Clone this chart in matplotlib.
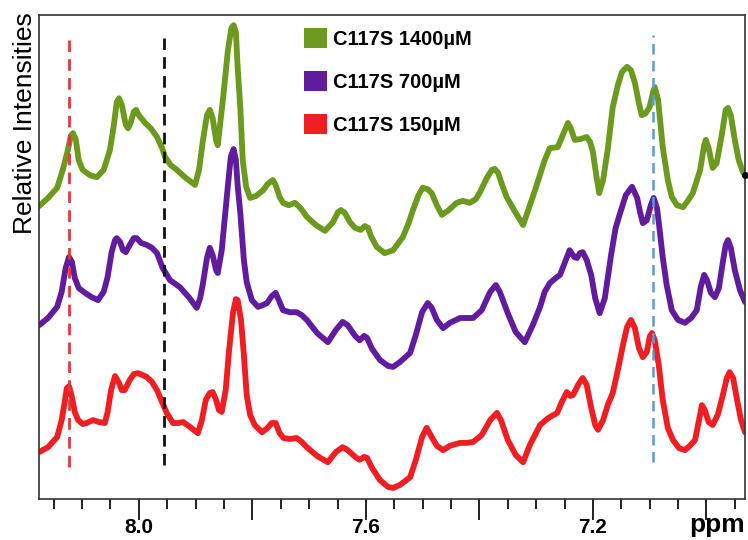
import matplotlib
matplotlib.use("Agg")
import matplotlib.pyplot as plt
from matplotlib.patches import Patch
from matplotlib.ticker import MultipleLocator, FuncFormatter

plt.rcParams['font.family'] = ['Liberation Sans', 'DejaVu Sans']

# Spectra (chemical shift in ppm, relative intensity, stacked)
green_ppm = [8.176, 8.160, 8.144, 8.134, 8.125, 8.120, 8.116, 8.111, 8.106, 8.099,
             8.086, 8.074, 8.062, 8.051, 8.044, 8.039, 8.035, 8.030, 8.023, 8.019,
             8.014, 8.009, 8.005, 8.000, 7.989, 7.979, 7.968, 7.959, 7.954, 7.944,
             7.933, 7.917, 7.901, 7.894, 7.887, 7.880, 7.875, 7.870, 7.864, 7.861,
             7.852, 7.843, 7.837, 7.833, 7.829, 7.826, 7.821, 7.817, 7.811, 7.804,
             7.794, 7.781, 7.773, 7.764, 7.759, 7.752, 7.746, 7.736, 7.725, 7.715,
             7.704, 7.688, 7.672, 7.658, 7.649, 7.644, 7.637, 7.628, 7.619, 7.609,
             7.602, 7.596, 7.591, 7.581, 7.567, 7.552, 7.535, 7.526, 7.517, 7.508,
             7.500, 7.491, 7.484, 7.475, 7.466, 7.454, 7.440, 7.429, 7.417, 7.406,
             7.399, 7.387, 7.378, 7.373, 7.367, 7.360, 7.352, 7.337, 7.323, 7.302,
             7.285, 7.276, 7.262, 7.253, 7.244, 7.239, 7.232, 7.221, 7.211, 7.205,
             7.200, 7.195, 7.189, 7.182, 7.174, 7.165, 7.156, 7.149, 7.140, 7.133,
             7.126, 7.119, 7.114, 7.107, 7.100, 7.094, 7.091, 7.085, 7.077, 7.068,
             7.061, 7.052, 7.041, 7.033, 7.024, 7.011, 7.004, 7.001, 6.996, 6.989,
             6.982, 6.973, 6.966, 6.962, 6.957, 6.950, 6.943, 6.936, 6.932]
green_int = [60.5, 62.2, 64.3, 68.0, 72.1, 75.0, 75.6, 74.2, 70.0, 68.0,
             66.9, 66.5, 68.0, 72.1, 77.3, 82.0, 82.8, 81.4, 77.3, 76.6,
             77.9, 80.0, 80.4, 79.3, 77.7, 76.6, 74.8, 72.5, 70.7, 69.0,
             68.0, 66.3, 64.9, 68.0, 74.2, 79.3, 80.4, 78.7, 74.2, 73.1,
             82.4, 92.8, 97.3, 97.9, 96.5, 89.3, 80.4, 70.0, 64.5, 62.2,
             62.6, 63.8, 65.1, 65.9, 64.9, 62.4, 61.2, 60.7, 61.2, 60.1,
             58.3, 56.6, 55.4, 57.2, 59.3, 59.7, 59.1, 57.2, 56.0, 55.6,
             56.4, 56.0, 54.3, 52.1, 50.8, 51.4, 54.1, 56.6, 59.7, 62.6,
             64.3, 64.0, 63.2, 60.7, 58.7, 59.7, 61.2, 61.6, 61.2, 62.0,
             63.4, 66.3, 68.0, 68.2, 67.4, 64.9, 62.4, 59.3, 56.6, 63.8,
             70.0, 72.5, 72.7, 75.2, 77.7, 76.6, 74.2, 74.4, 74.8, 73.8,
             71.7, 67.6, 63.2, 65.9, 72.1, 81.0, 85.5, 88.2, 89.3, 88.6,
             86.0, 81.8, 79.3, 79.7, 81.0, 84.1, 85.1, 82.4, 72.7, 65.9,
             62.4, 60.7, 60.3, 61.6, 63.2, 68.0, 73.1, 74.2, 72.5, 68.4,
             69.4, 75.2, 80.4, 80.8, 79.3, 74.2, 70.0, 67.6, 66.9]

purple_ppm = [8.176, 8.160, 8.144, 8.136, 8.129, 8.123, 8.118, 8.113, 8.106, 8.095,
              8.083, 8.072, 8.062, 8.055, 8.048, 8.042, 8.039, 8.033, 8.028, 8.023,
              8.016, 8.009, 8.004, 7.996, 7.986, 7.977, 7.968, 7.958, 7.945, 7.928,
              7.912, 7.898, 7.892, 7.887, 7.880, 7.875, 7.870, 7.864, 7.861, 7.854,
              7.849, 7.843, 7.838, 7.833, 7.829, 7.826, 7.821, 7.815, 7.810, 7.801,
              7.790, 7.781, 7.774, 7.766, 7.759, 7.752, 7.746, 7.734, 7.722, 7.713,
              7.704, 7.686, 7.667, 7.653, 7.641, 7.632, 7.619, 7.611, 7.603, 7.598,
              7.589, 7.575, 7.561, 7.552, 7.540, 7.522, 7.512, 7.501, 7.491, 7.484,
              7.475, 7.464, 7.452, 7.434, 7.422, 7.411, 7.396, 7.381, 7.371, 7.364,
              7.350, 7.336, 7.320, 7.306, 7.293, 7.285, 7.276, 7.265, 7.258, 7.249,
              7.241, 7.233, 7.228, 7.223, 7.218, 7.211, 7.203, 7.196, 7.188, 7.179,
              7.168, 7.160, 7.152, 7.142, 7.131, 7.122, 7.117, 7.112, 7.105, 7.098,
              7.093, 7.087, 7.082, 7.077, 7.070, 7.061, 7.050, 7.038, 7.027, 7.017,
              7.010, 7.004, 6.999, 6.992, 6.985, 6.978, 6.971, 6.966, 6.962, 6.957,
              6.950, 6.941, 6.932]
purple_int = [35.9, 37.4, 39.7, 42.8, 47.7, 50.0, 49.0, 45.7, 43.6, 42.6,
              41.7, 41.1, 42.8, 45.9, 51.0, 53.5, 53.9, 53.1, 51.4, 51.0,
              52.5, 53.9, 53.9, 52.9, 52.5, 51.9, 50.8, 47.7, 45.2, 43.8,
              41.7, 39.5, 41.5, 44.6, 49.8, 51.9, 50.4, 47.3, 46.7, 51.4,
              57.6, 64.9, 70.7, 72.3, 70.0, 64.9, 58.7, 49.4, 44.8, 41.1,
              39.7, 40.1, 40.5, 41.9, 42.6, 40.7, 39.0, 38.6, 38.6, 38.0,
              37.0, 34.3, 32.4, 34.9, 36.6, 35.9, 33.7, 32.8, 33.7, 33.3,
              31.0, 28.7, 27.5, 27.3, 28.3, 30.2, 33.9, 38.6, 40.5, 39.5,
              37.0, 35.3, 36.4, 37.4, 37.4, 37.4, 39.0, 42.8, 44.2, 42.8,
              38.4, 34.5, 32.4, 35.9, 39.7, 42.8, 44.6, 45.7, 46.3, 49.0,
              51.4, 50.0, 49.8, 50.8, 51.0, 49.4, 46.3, 41.5, 38.4, 41.5,
              50.4, 56.0, 59.1, 62.8, 64.5, 62.2, 59.3, 57.0, 57.6, 60.7,
              62.2, 60.1, 55.2, 50.0, 44.2, 39.0, 37.0, 36.4, 37.4, 39.0,
              43.8, 46.3, 45.2, 42.6, 41.7, 43.6, 49.0, 52.5, 53.5, 51.9,
              47.3, 43.2, 40.7]

red_ppm = [8.176, 8.160, 8.144, 8.136, 8.130, 8.127, 8.123, 8.118, 8.113, 8.107,
           8.099, 8.092, 8.081, 8.070, 8.060, 8.055, 8.049, 8.042, 8.035, 8.030,
           8.025, 8.016, 8.009, 8.002, 7.993, 7.986, 7.977, 7.968, 7.959, 7.951,
           7.940, 7.931, 7.922, 7.910, 7.896, 7.889, 7.882, 7.875, 7.870, 7.864,
           7.859, 7.854, 7.847, 7.841, 7.834, 7.829, 7.826, 7.820, 7.815, 7.810,
           7.804, 7.796, 7.783, 7.773, 7.766, 7.759, 7.752, 7.745, 7.734, 7.722,
           7.713, 7.704, 7.686, 7.667, 7.653, 7.641, 7.632, 7.619, 7.611, 7.603,
           7.598, 7.589, 7.575, 7.561, 7.552, 7.540, 7.522, 7.512, 7.501, 7.493,
           7.484, 7.475, 7.464, 7.452, 7.434, 7.422, 7.411, 7.396, 7.381, 7.369,
           7.362, 7.350, 7.336, 7.323, 7.311, 7.293, 7.279, 7.263, 7.255, 7.246,
           7.240, 7.235, 7.226, 7.218, 7.211, 7.204, 7.196, 7.191, 7.182, 7.174,
           7.165, 7.156, 7.147, 7.140, 7.133, 7.126, 7.119, 7.112, 7.105, 7.100,
           7.096, 7.091, 7.084, 7.077, 7.068, 7.059, 7.048, 7.038, 7.029, 7.020,
           7.013, 7.008, 7.003, 6.996, 6.989, 6.980, 6.971, 6.964, 6.959, 6.953,
           6.946, 6.939, 6.932]
red_int = [9.7, 10.7, 12.8, 16.3, 20.5, 22.9, 23.3, 21.1, 18.0, 16.3,
           15.5, 15.7, 16.3, 15.9, 15.7, 18.0, 22.5, 25.4, 24.0, 22.5,
           22.5, 24.6, 25.8, 26.0, 25.6, 25.2, 24.2, 22.5, 20.0, 17.8,
           15.7, 15.7, 15.9, 14.9, 13.6, 16.3, 20.5, 21.9, 22.1, 20.5,
           18.4, 18.0, 22.5, 30.8, 38.6, 41.3, 41.1, 37.0, 29.8, 21.5,
           17.4, 15.3, 13.8, 14.7, 15.7, 15.7, 13.6, 12.6, 12.4, 12.6,
           11.8, 10.7, 8.9, 7.6, 9.7, 10.7, 10.1, 8.7, 8.1, 8.7,
           8.5, 6.4, 3.9, 2.5, 2.3, 2.9, 4.5, 8.1, 12.8, 14.7,
           12.8, 11.0, 10.1, 11.0, 11.6, 11.6, 11.8, 13.2, 16.3, 17.8,
           16.3, 12.2, 9.1, 7.6, 11.2, 15.3, 16.7, 17.8, 20.0, 22.1,
           21.3, 21.5, 23.6, 25.0, 23.6, 19.4, 15.3, 14.3, 16.3, 19.4,
           21.9, 26.7, 31.8, 35.5, 37.0, 35.3, 31.2, 29.3, 30.4, 33.5,
           34.3, 32.8, 27.7, 20.5, 14.7, 12.2, 10.5, 10.1, 11.0, 12.2,
           16.3, 19.4, 18.4, 15.9, 15.3, 17.4, 21.5, 25.0, 26.2, 25.0,
           20.5, 16.3, 13.8]

labels = ['C117S 1400\u00b5M', 'C117S 700\u00b5M', 'C117S 150\u00b5M']
colors = ['#6b9a1f', '#611c9e', '#ee1e22']

# Marker lines: position (ppm), lower and upper intensity
markers_ppm = [8.123, 7.956, 7.094]
markers_lo = [6.6, 7.0, 7.6]
markers_hi = [94.8, 95.2, 95.9]
marker_colors = ['#e03a3a', '#111111', '#5b9bd5']

fig = plt.figure(figsize=(7.48, 5.40), dpi=100)
ax = fig.add_axes([0.0521, 0.0759, 0.9439, 0.8963])

for (px, iy), c in zip([(green_ppm, green_int), (purple_ppm, purple_int),
                        (red_ppm, red_int)], colors):
    ax.plot(px, iy, color=c, lw=4.2, solid_joinstyle='round', solid_capstyle='round')

# black dot at the end of the top trace
ax.plot(green_ppm[-1], green_int[-1], 'o', color='k', ms=4, clip_on=False, zorder=5)

for x, lo, hi, c in zip(markers_ppm, markers_lo, markers_hi, marker_colors):
    lw = 2.0 if c != '#5b9bd5' else 1.8
    ax.plot([x, x], [lo, hi], color=c, lw=lw, dashes=(4.2, 2.6), zorder=4)

ax.set_xlim(8.176, 6.932)
ax.set_ylim(0, 100)
ax.set_yticks([])

ax.xaxis.set_major_locator(MultipleLocator(0.2))
ax.xaxis.set_minor_locator(MultipleLocator(0.05))
ax.xaxis.set_major_formatter(FuncFormatter(
    lambda v, p: f"{v:.1f}" if round(v * 10) % 4 == 0 else ""))
ax.tick_params(axis='x', which='major', length=15, width=1.4, direction='out',
               labelsize=15, pad=-1, color='#222222')
ax.tick_params(axis='x', which='minor', length=7, width=1.4, direction='out',
               color='#222222')
for t in ax.get_xticklabels():
    t.set_fontweight('bold')

for s in ax.spines.values():
    s.set_linewidth(1.2)
    s.set_color('#333333')

ax.text(1.0, -0.028, 'ppm', transform=ax.transAxes, ha='right', va='top',
        fontsize=19, fontweight='bold')
fig.text(25 / 748, 1 - 123 / 540, 'Relative Intensities', rotation=90,
         ha='center', va='center', fontsize=19)

handles = [Patch(facecolor=c, edgecolor='none') for c in colors]
leg = ax.legend(handles, labels, loc='upper left',
                bbox_to_anchor=(304 / 748, 1 - 28 / 540),
                bbox_transform=fig.transFigure, frameon=False,
                prop={'weight': 'bold', 'size': 14.5},
                handlelength=1.15, handleheight=1.15, handletextpad=0.3,
                labelspacing=1.1, borderpad=0, borderaxespad=0)

fig.savefig('out.png', dpi=100)
